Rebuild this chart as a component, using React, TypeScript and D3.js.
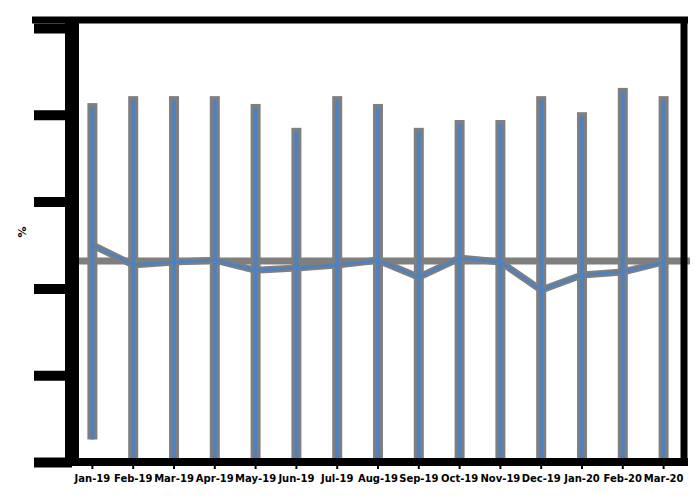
import React, { useRef, useEffect } from 'react';
import * as d3 from 'd3';

// categories along the x axis
const periods = ['Jan-19', 'Feb-19', 'Mar-19', 'Apr-19', 'May-19', 'Jun-19', 'Jul-19', 'Aug-19',
    'Sep-19', 'Oct-19', 'Nov-19', 'Dec-19', 'Jan-20', 'Feb-20', 'Mar-20'];
// grey bars: top and bottom of each bar
const barHigh = [82.7, 84.3, 84.3, 84.3, 82.5, 77.0, 84.3, 82.5, 77.0, 78.8, 78.8, 84.3, 80.6, 86.2, 84.3];
const barLow = [5.2, 0, 0, 0, 0, 0, 0, 0, 0, 0, 0, 0, 0, 0, 0];
// blue line series
const lineValues = [50.0, 45.4, 46.1, 46.5, 44.2, 44.7, 45.4, 46.5, 42.6, 47.0, 46.1, 39.6, 43.1, 43.8, 46.1];
// grey reference level
const refLevel = 46.3;
const yTicks = [0, 20, 40, 60, 80, 100];
const yTitle = '%';

const App = () => {
    const svgRef = useRef(null);

    useEffect(() => {
        const svg = d3.select(svgRef.current);
        svg.selectAll('*').remove();

        const left = 72, right = 684;
        const x = d3.scaleBand().domain(periods).range([left, right]).padding(0);
        const y = d3.scaleLinear().domain([0, 100]).range([462, 28]);
        const cx = d => x(d) + x.bandwidth() / 2;

        const grey = '#7f7f7f';
        const blue = '#4f81bd';

        // grey bars
        svg.append('g').selectAll('rect')
            .data(periods)
            .enter().append('rect')
            .attr('x', d => cx(d) - 5)
            .attr('width', 10)
            .attr('y', (d, i) => y(barHigh[i]))
            .attr('height', (d, i) => y(barLow[i]) - y(barHigh[i]))
            .attr('fill', grey);

        // reference line
        svg.append('line')
            .attr('x1', left + 2).attr('x2', right + 6)
            .attr('y1', y(refLevel)).attr('y2', y(refLevel))
            .attr('stroke', grey).attr('stroke-width', 7);

        // grey halo behind the blue line
        const line = d3.line().x((d, i) => cx(periods[i])).y(d => y(d));
        svg.append('path')
            .datum(lineValues)
            .attr('fill', 'none')
            .attr('stroke', grey)
            .attr('stroke-width', 7)
            .attr('d', line);

        // blue inner bars
        svg.append('g').selectAll('line')
            .data(periods)
            .enter().append('line')
            .attr('x1', d => cx(d)).attr('x2', d => cx(d))
            .attr('y1', (d, i) => y(barHigh[i]) + 4)
            .attr('y2', (d, i) => y(barLow[i]))
            .attr('stroke', blue)
            .attr('stroke-width', 4);

        // blue line
        svg.append('path')
            .datum(lineValues)
            .attr('fill', 'none')
            .attr('stroke', blue)
            .attr('stroke-width', 3)
            .attr('d', line);

        // frame
        svg.append('line').attr('x1', 32).attr('x2', right + 4)
            .attr('y1', 20).attr('y2', 20).attr('stroke', '#000').attr('stroke-width', 7);
        svg.append('line').attr('x1', right).attr('x2', right)
            .attr('y1', 20).attr('y2', 462).attr('stroke', '#000').attr('stroke-width', 7);
        svg.append('line').attr('x1', 72).attr('x2', 72)
            .attr('y1', 20).attr('y2', 466).attr('stroke', '#000').attr('stroke-width', 14);
        svg.append('line').attr('x1', 64).attr('x2', right + 4)
            .attr('y1', y(0)).attr('y2', y(0)).attr('stroke', '#000').attr('stroke-width', 8);

        // y axis ticks, no labels
        const yAxis = d3.axisLeft(y).tickValues(yTicks).tickSize(38).tickFormat(() => '');
        const gy = svg.append('g').attr('transform', 'translate(72,0)').call(yAxis);
        gy.select('.domain').remove();
        gy.selectAll('line').attr('stroke', '#000').attr('stroke-width', 10);

        // x axis labels
        const xAxis = d3.axisBottom(x).tickSize(4);
        const gx = svg.append('g').attr('transform', `translate(0,${y(0) + 3})`).call(xAxis);
        gx.select('.domain').remove();
        gx.selectAll('line').attr('stroke', '#000').attr('stroke-width', 2);
        gx.selectAll('text')
            .attr('fill', '#000')
            .attr('dy', '1em')
            .style('font-family', 'DejaVu Sans')
            .style('font-weight', 'bold')
            .style('font-size', '10px');

        // y axis title
        svg.append('text')
            .attr('transform', 'translate(26,232) rotate(-90)')
            .attr('text-anchor', 'middle')
            .style('font-family', 'DejaVu Sans')
            .style('font-weight', 'bold')
            .style('font-size', '11px')
            .text(yTitle);
    }, []);

    return (
        <svg ref={svgRef} width={700} height={500}
            style={{ position: 'absolute', left: 0, top: 0, background: '#fff' }}></svg>
    );
};

export default App;
